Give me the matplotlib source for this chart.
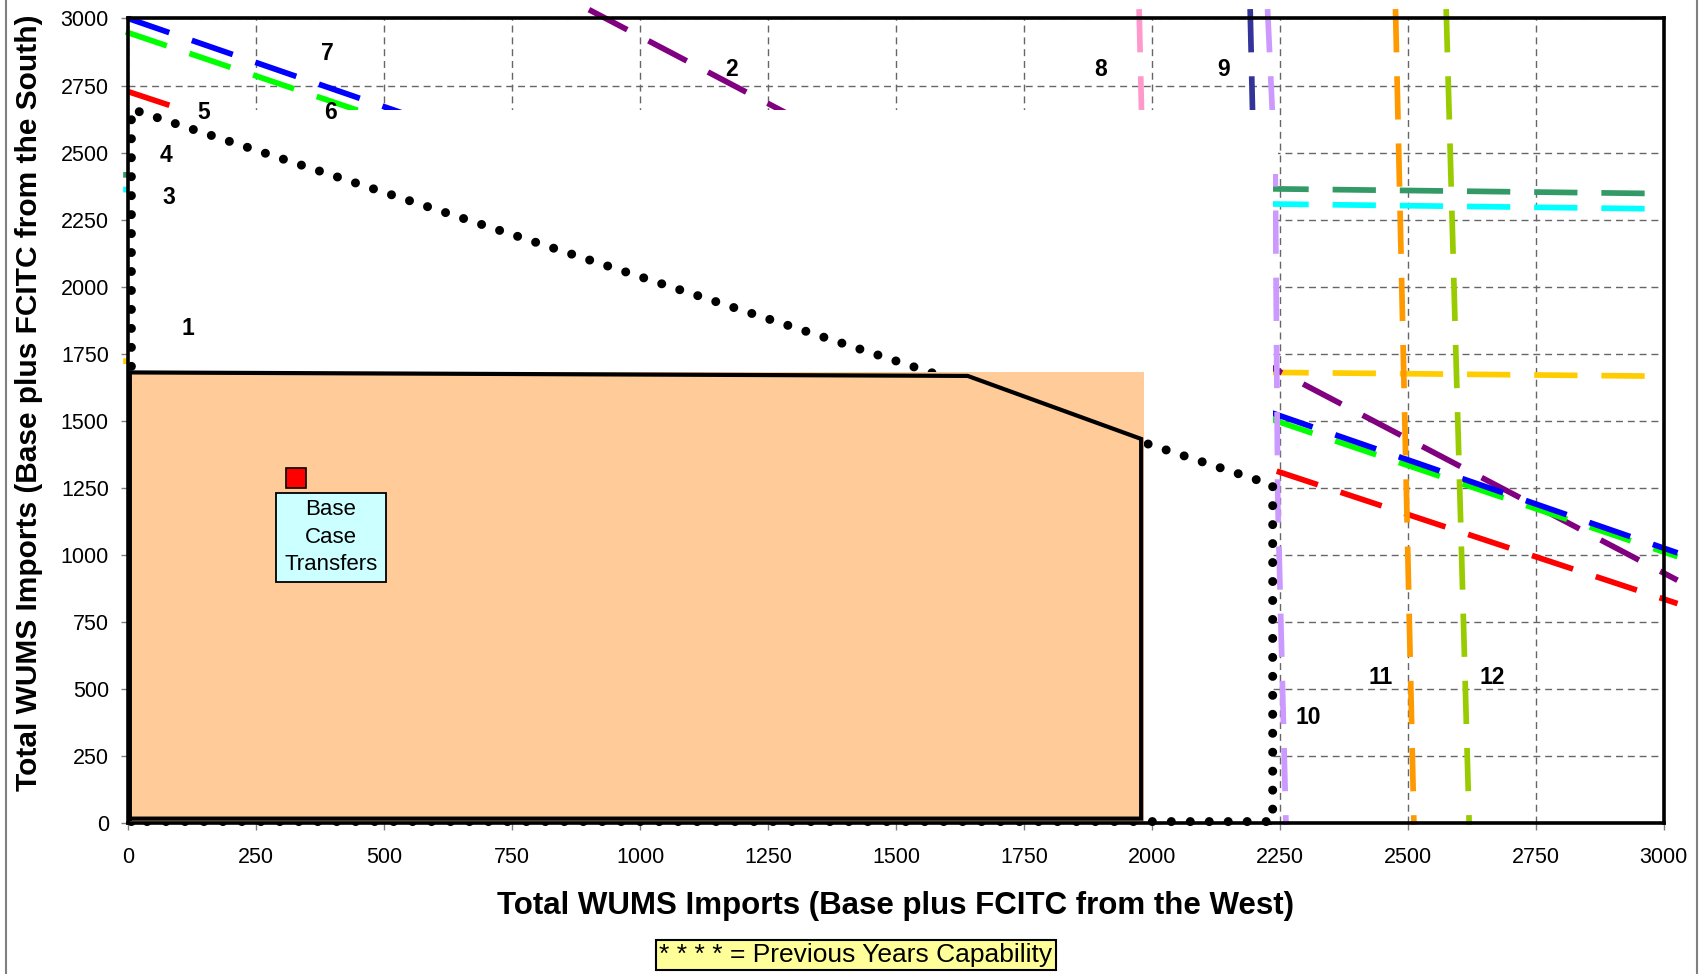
import matplotlib
matplotlib.use("Agg")
import matplotlib.pyplot as plt
from matplotlib.patches import Rectangle, Polygon
from matplotlib.lines import Line2D

plt.rcParams['font.family'] = ['Liberation Sans', 'DejaVu Sans']

# ---------------- data ----------------
x_ticks = [0, 250, 500, 750, 1000, 1250, 1500, 1750, 2000, 2250, 2500, 2750, 3000]
y_ticks = [0, 250, 500, 750, 1000, 1250, 1500, 1750, 2000, 2250, 2500, 2750, 3000]

# constraint lines 1..12 (x, y) pairs
l1_x = [-10, 2990];            l1_y = [1722, 1666]
l2_x = [900, 3027];            l2_y = [3033, 905]
l3_x = [-10, 2990];            l3_y = [2362, 2290]
l4_x = [-10, 2990];            l4_y = [2417, 2347]
l5_x = [0, 3027];              l5_y = [2727, 818]
l6_x = [-5, 3027];             l6_y = [2950, 993]
l7_x = [0, 3027];              l7_y = [3000, 1007]
l8_x = [1975, 2013];           l8_y = [3035, -8]
l9_x = [2192, 2229];           l9_y = [3035, -8]
l10_x = [2226, 2241, 2246, 2262]; l10_y = [3035, 2420, 1200, -8]
l11_x = [2476, 2512];          l11_y = [3035, -8]
l12_x = [2575, 2620];          l12_y = [3035, -8]

line_colors = ['#FFCC00', '#800080', '#00FFFF', '#339966', '#FF0000', '#00FF00',
               '#0000FF', '#FF99CC', '#333399', '#CC99FF', '#FF9900', '#99CC00']

# previous years capability (dotted)
prev_x = [6, 6, 2236, 2236, 6]
prev_y = [5, 2662, 1260, 5, 5]

# base case region (fill and outline)
fill_x = [0, 0, 1984, 1984]
fill_y = [0, 1680, 1680, 0]
outline_x = [3, 3, 1640, 1979, 1979, 3]
outline_y = [16, 1680, 1667, 1432, 16, 16]

# base case transfer point
base_x = [327]
base_y = [1285]

# number labels
lab_text = ['1', '2', '3', '4', '5', '6', '7', '8', '9', '10', '11', '12']
lab_x = [117, 1179, 79, 74, 147, 395, 389, 1899, 2141, 2305, 2447, 2664]
lab_y = [1844, 2809, 2331, 2489, 2651, 2651, 2870, 2809, 2809, 393, 543, 543]

# ---------------- figure ----------------
fig = plt.figure(figsize=(17.05, 9.74), dpi=100)
ax = fig.add_axes([0.07526, 0.15513, 0.90051, 0.8259])
ax.set_xlim(0, 3000)
ax.set_ylim(0, 3000)
ax.set_xticks(x_ticks)
ax.set_yticks(y_ticks)
ax.set_axisbelow(True)
ax.grid(True, color='#666666', linestyle=(0, (5, 3.5)), linewidth=1.0)

dash = (0, (7.6, 4.2))
lines_x = [l1_x, l2_x, l3_x, l4_x, l5_x, l6_x, l7_x, l8_x, l9_x, l10_x, l11_x, l12_x]
lines_y = [l1_y, l2_y, l3_y, l4_y, l5_y, l6_y, l7_y, l8_y, l9_y, l10_y, l11_y, l12_y]
for xs, ys, c in zip(lines_x, lines_y, line_colors):
    ax.plot(xs, ys, color=c, lw=4.1, linestyle=dash, dash_capstyle='butt',
            clip_on=False, zorder=2)

# white mask covering the lines in the lower-left region
ax.add_patch(Polygon([(0, 0), (0, 2660), (2246, 2660), (2246, 2420), (2236, 2420), (2236, 0)],
                     closed=True, facecolor='white', edgecolor='none', zorder=3))

# previous years capability (dotted)
ax.plot(prev_x, prev_y, color='black', lw=6.5, linestyle=(0, (0.001, 2.1)),
        dash_capstyle='round', zorder=4, clip_on=False)

# base case region
ax.fill(fill_x, fill_y, color='#FFCC99', zorder=5, lw=0)
ax.plot(outline_x, outline_y, color='black', lw=3.0, zorder=6, solid_joinstyle='miter')
ax.plot([0, 1983], [4, 4], color='white', lw=1.0, linestyle=(0, (5, 3.5)), zorder=6.5)

# base case point and box
ax.plot(base_x, base_y, marker='s', markersize=14, markerfacecolor='#FF0000',
        markeredgecolor='black', markeredgewidth=1.2, linestyle='none', zorder=8)
ax.add_patch(Rectangle((289, 900), 214, 332, facecolor='#CCFFFF', edgecolor='black',
                       lw=1.3, zorder=7))
ax.text(396, 1066, 'Base\nCase\nTransfers', ha='center', va='center', fontsize=16,
        linespacing=1.4, zorder=8)

for t, x, y in zip(lab_text, lab_x, lab_y):
    ax.text(x, y, t, ha='center', va='center', fontsize=16.5, fontweight='bold', zorder=8)

for s in ax.spines.values():
    s.set_linewidth(2.6)
    s.set_color('black')
    s.set_zorder(10)

ax.tick_params(axis='both', direction='out', length=5, width=1, color='#808080',
               labelsize=15.5)
ax.tick_params(axis='x', pad=12)
ax.tick_params(axis='y', pad=9)

fig.text(0.5255, 0.070, 'Total WUMS Imports (Base plus FCITC from the West)',
         ha='center', va='center', fontsize=22.5, fontweight='bold')
fig.text(0.0172, 0.587, 'Total WUMS Imports (Base plus FCITC from the South)',
         ha='center', va='center', fontsize=21.5, fontweight='bold', rotation=90)

fig.text(0.502, 0.0198, '* * * * = Previous Years Capability', ha='center', va='center',
         fontsize=19, bbox=dict(boxstyle='square,pad=0.12', facecolor='#FFFF99',
                                edgecolor='black', linewidth=1.5))

fig.add_artist(Line2D([0.0035, 0.0035], [0, 1], transform=fig.transFigure,
                      color='#808080', lw=1.5))
fig.add_artist(Line2D([0.9953, 0.9953], [0, 1], transform=fig.transFigure,
                      color='#808080', lw=1.5))

fig.savefig('out.png', dpi=100)
